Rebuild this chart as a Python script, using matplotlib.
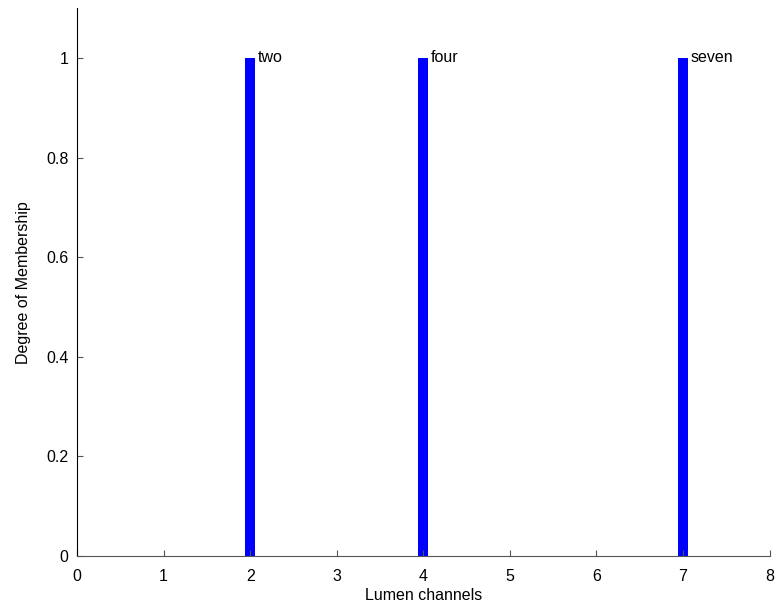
import numpy as np
import matplotlib
matplotlib.use("Agg")
from matplotlib import pyplot as plt

plt.rcParams['font.family'] = ['Liberation Sans', 'DejaVu Sans']

# singleton membership functions
kanal = [2, 4, 7]
uyelik = [1, 1, 1]
etiket = ["two", "four", "seven"]

xticks = [0, 1, 2, 3, 4, 5, 6, 7, 8]
yticks = [0, 0.2, 0.4, 0.6, 0.8, 1]
ytick_labels = ["0", "0.2", "0.4", "0.6", "0.8", "1"]

fig = plt.figure(figsize=(7.8, 6.12), dpi=100)
ax = fig.add_axes([0.0987, 0.0915, 0.888, 0.895])

ax.bar(kanal, uyelik, width=0.115, color="#0000ff", linewidth=0)
for k, u, e in zip(kanal, uyelik, etiket):
    ax.text(k + 0.09, u + 0.002, e, fontsize=11.5, va="center", ha="left")

ax.set_xlim(0, 8)
ax.set_ylim(0, 1.1)
ax.set_xticks(xticks)
ax.set_yticks(yticks)
ax.set_yticklabels(ytick_labels)
ax.tick_params(direction="in", length=4, labelsize=11.5, color="#555555")
ax.tick_params(axis="x", pad=9)
ax.tick_params(axis="y", pad=6)
ax.spines["top"].set_visible(False)
ax.spines["right"].set_visible(False)
ax.spines["bottom"].set_color("#555555")
ax.spines["left"].set_color("black")
ax.set_xlabel("Lumen channels", fontsize=11.5, labelpad=3)
ax.set_ylabel("Degree of Membership", fontsize=11.5, labelpad=11)

plt.savefig("out.png", dpi=100)
